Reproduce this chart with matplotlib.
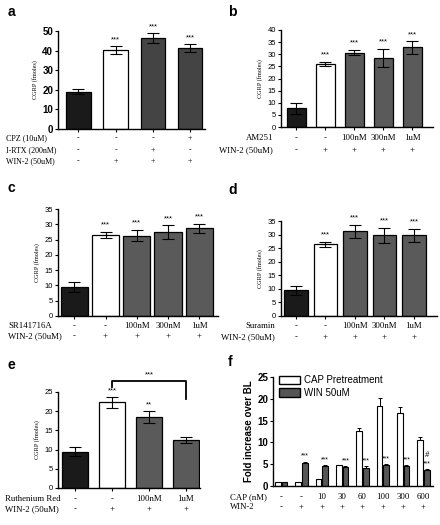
import matplotlib
matplotlib.use("Agg")
import matplotlib.pyplot as plt
from matplotlib.patches import Patch
import numpy as np

W, H = 440, 525
SERIF = "Liberation Serif"
SANS = "Liberation Sans"

# ---- data ----
a_vals = [19.0, 40.3, 46.5, 41.3]
a_err = [1.3, 2.0, 2.5, 2.0]
a_stars = ["", "***", "***", "***"]
a_rows = [("CPZ (10uM)", ["-", "-", "-", "+"]),
          ("I-RTX (200nM)", ["-", "-", "+", "-"]),
          ("WIN-2 (50uM)", ["-", "+", "+", "+"])]

b_vals = [7.7, 26.0, 30.7, 28.5, 32.8]
b_err = [2.3, 1.0, 1.2, 3.8, 2.7]
b_stars = ["", "***", "***", "***", "***"]
b_rows = [("AM251", ["-", "-", "100nM", "300nM", "1uM"]),
          ("WIN-2 (50uM)", ["-", "+", "+", "+", "+"])]

c_vals = [9.5, 26.5, 26.3, 27.5, 28.7]
c_err = [1.6, 1.1, 1.9, 2.2, 1.5]
c_stars = ["", "***", "***", "***", "***"]
c_rows = [("SR141716A", ["-", "-", "100nM", "300nM", "1uM"]),
          ("WIN-2 (50uM)", ["-", "+", "+", "+", "+"])]

d_vals = [9.5, 26.5, 31.3, 29.8, 29.8]
d_err = [1.7, 0.9, 2.4, 2.8, 2.4]
d_stars = ["", "***", "***", "***", "***"]
d_rows = [("Suramin", ["-", "-", "100nM", "300nM", "1uM"]),
          ("WIN-2 (50uM)", ["-", "+", "+", "+", "+"])]

e_vals = [9.5, 22.3, 18.5, 12.5]
e_err = [1.2, 1.4, 1.5, 0.8]
e_stars = ["", "***", "**", ""]
e_rows = [("Ruthenium Red", ["-", "-", "100nM", "1uM"]),
          ("WIN-2 (50uM)", ["-", "+", "+", "+"])]

f_cap = [1.0, 1.0, 1.5, 4.8, 12.7, 18.3, 16.7, 10.5]
f_cap_err = [0.0, 0.0, 0.1, 0.0, 0.7, 1.8, 1.5, 0.8]
f_win = [1.0, 5.3, 4.7, 4.4, 4.2, 4.9, 4.6, 3.7]
f_win_err = [0.0, 0.3, 0.2, 0.2, 0.3, 0.2, 0.2, 0.2]
f_stars = ["", "***", "***", "***", "***", "***", "***", "***"]
f_rows = [("CAP (nM)", ["-", "-", "10", "30", "60", "100", "300", "600"]),
          ("WIN-2", ["-", "+", "+", "+", "+", "+", "+", "+"])]


def px_axes(fig, left, right, top, bottom):
    # axes placed by pixel edges (from top-left corner)
    return fig.add_axes([left / W, (H - bottom) / H, (right - left) / W, (bottom - top) / H])


def style_axes(ax, bold=False, size=5.5):
    for s in ["top", "right"]:
        ax.spines[s].set_visible(False)
    ax.spines["left"].set_linewidth(1.0)
    ax.spines["bottom"].set_linewidth(1.0)
    ax.tick_params(axis="y", length=2.5, width=0.8, pad=1, labelsize=size)
    ax.tick_params(axis="x", length=2.5, width=0.8, labelbottom=False)
    for lab in ax.get_yticklabels():
        lab.set_family(SANS)
        if bold:
            lab.set_fontweight("bold")


def cgrp_panel(fig, rect, vals, errs, stars, colors, width, xlim, ylim, yticks,
               bold=False, tsize=5.5):
    ax = px_axes(fig, *rect)
    x = np.arange(len(vals))
    ax.bar(x, vals, width=width, color=colors, edgecolor="black", linewidth=0.9, zorder=2)
    ax.errorbar(x, vals, yerr=errs, fmt="none", ecolor="black", elinewidth=0.8,
                capsize=4, capthick=0.8, zorder=3)
    for i, s in enumerate(stars):
        if s:
            ax.text(x[i], vals[i] + errs[i] + ylim[1] * 0.03, s, ha="center",
                    va="bottom", fontsize=5.5, family=SANS)
    ax.set_xlim(*xlim)
    ax.set_ylim(*ylim)
    ax.set_yticks(yticks)
    ax.set_xticks(x)
    style_axes(ax, bold=bold, size=tsize)
    ax.set_ylabel("CGRP (fmoles)", family=SERIF, fontsize=4.5, labelpad=3)
    return ax


def put_rows(fig, ax, rows, ys, label_x, ha="left", size=6.3):
    # y positions given in pixels from top; marks centred under each bar
    for (name, marks), y in zip(rows, ys):
        yf = (H - y) / H
        fig.text(label_x / W, yf, name, ha=ha, va="center", family=SERIF, fontsize=size)
        for i, m in enumerate(marks):
            xd = ax.transData.transform((i, 0))[0]
            fig.text(xd / fig.dpi / fig.get_figwidth(), yf, m, ha="center", va="center",
                     family=SERIF, fontsize=size)


fig = plt.figure(figsize=(W / 100, H / 100), dpi=100)
fig.patch.set_facecolor("white")

k, w, g1, g2 = "#1a1a1a", "white", "#444444", "#5a5a5a"

# panel a
ax_a = cgrp_panel(fig, (58, 205, 31, 129), a_vals, a_err, a_stars, [k, w, g1, g1],
                  0.66, (-0.55, 3.4), (0, 50), [0, 10, 20, 30, 40, 50], bold=True, tsize=7)
put_rows(fig, ax_a, a_rows, [138, 150, 161], 6, size=5.8)

# panel b
ax_b = cgrp_panel(fig, (281, 433, 30, 127), b_vals, b_err, b_stars, [k, w, g2, g2, g2],
                  0.66, (-0.52, 4.72), (0, 40), list(range(0, 41, 5)))
put_rows(fig, ax_b, b_rows, [138, 150], 273, ha="right")

# panel c
ax_c = cgrp_panel(fig, (58, 218, 209, 316), c_vals, c_err, c_stars, [k, w, g2, g2, g2],
                  0.87, (-0.52, 4.6), (0, 35), list(range(0, 36, 5)))
put_rows(fig, ax_c, c_rows, [326, 336], 8)

# panel d
ax_d = cgrp_panel(fig, (281, 437, 221, 316), d_vals, d_err, d_stars, [k, w, g2, g2, g2],
                  0.8, (-0.5, 4.78), (0, 35), list(range(0, 36, 5)))
put_rows(fig, ax_d, d_rows, [326, 337], 275, ha="right")

# panel e
ax_e = cgrp_panel(fig, (58, 200, 392, 488), e_vals, e_err, e_stars, [k, w, g2, g2],
                  0.68, (-0.46, 3.38), (0, 25), [0, 5, 10, 15, 20, 25])
put_rows(fig, ax_e, e_rows, [499, 509], 5)
ax_e.plot([1, 1, 3, 3], [26.2, 27.8, 27.8, 23.2], color="black", lw=1.3, clip_on=False)
ax_e.text(2, 28.6, "***", ha="center", va="bottom", fontsize=5.5, family=SANS)

# panel f
ax_f = px_axes(fig, 273, 433, 377, 486)
xf = np.arange(len(f_cap))
bw, off = 0.28, 0.16
ax_f.bar(xf - off, f_cap, width=bw, color="white", edgecolor="black", linewidth=0.8, zorder=2)
ax_f.bar(xf + off, f_win, width=bw, color="#555555", edgecolor="black", linewidth=0.8, zorder=2)
ax_f.errorbar(xf - off, f_cap, yerr=[np.zeros(len(f_cap)), f_cap_err], fmt="none",
              ecolor="black", elinewidth=0.7, capsize=1.5, capthick=0.7, zorder=3)
ax_f.errorbar(xf + off, f_win, yerr=[np.zeros(len(f_win)), f_win_err], fmt="none",
              ecolor="black", elinewidth=0.7, capsize=1.5, capthick=0.7, zorder=3)
for i, s in enumerate(f_stars):
    if s:
        ax_f.text(xf[i] + off, f_win[i] + f_win_err[i] + 0.4, s, ha="center",
                  va="bottom", fontsize=5, family=SANS)
ax_f.text(xf[-1] + off, f_win[-1] + 2.4, "#", ha="center", va="bottom",
          fontsize=6, family=SERIF, style="italic")
ax_f.set_xlim(-0.4, 7.47)
ax_f.set_ylim(0, 25)
ax_f.set_yticks([0, 5, 10, 15, 20, 25])
ax_f.set_xticks([])
style_axes(ax_f, bold=True, size=7)
ax_f.set_ylabel("Fold increase over BL", family=SANS, fontweight="bold", fontsize=7, labelpad=2)
ax_f.legend(handles=[Patch(facecolor="white", edgecolor="black", label="CAP Pretreatment"),
                     Patch(facecolor="#555555", edgecolor="black", label="WIN 50uM")],
            loc="upper left", bbox_to_anchor=(0.0, 1.07), frameon=False,
            prop={"family": SANS, "size": 7}, handlelength=2.2, handleheight=1.0,
            handletextpad=0.4, labelspacing=0.25, borderaxespad=0.2)
put_rows(fig, ax_f, f_rows, [497, 507], 230)

# panel letters
for lab, (x, y) in zip("abcdef", [(8, 12), (228, 12), (8, 188), (228, 190), (8, 365), (228, 362)]):
    fig.text(x / W, (H - y) / H, lab, ha="left", va="center", family=SANS,
             fontweight="bold", fontsize=10)

fig.savefig("out.png", dpi=100)
